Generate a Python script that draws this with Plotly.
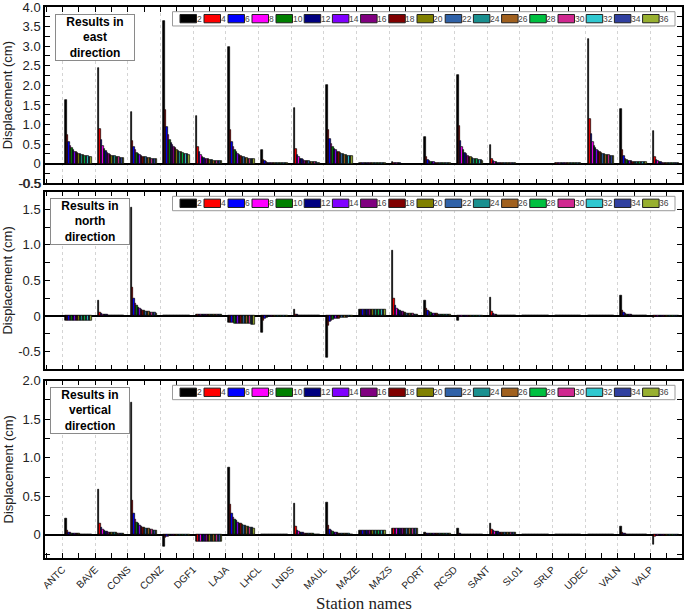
import plotly.graph_objects as go

# station names along the x axis
stations = ["ANTC", "BAVE", "CONS", "CONZ", "DGF1", "LAJA", "LHCL", "LNDS", "MAUL", "MAZE",
            "MAZS", "PORT", "RCSD", "SANT", "SL01", "SRLP", "UDEC", "VALN", "VALP"]

# legend entries (series)
periods = [2, 4, 6, 8, 10, 12, 14, 16, 18, 20, 22, 24, 26, 28, 30, 32, 34, 36]

colors = ["#000000", "#FF0000", "#0000FF", "#FF00FF", "#008000", "#000080", "#8000FF", "#800080",
          "#800000", "#808000", "#3062A8", "#1A9090", "#A0601E", "#00C040", "#D02890", "#30C8D0",
          "#3040A0", "#98B030"]

# displacement (cm), one row per station, one column per series
east = [
    [1.62, 0.73, 0.55, 0.45, 0.39, 0.34, 0.31, 0.29, 0.27, 0.25, 0.24, 0.23, 0.22, 0.21, 0.20, 0.19, 0.18, 0.17],
    [2.44, 0.88, 0.60, 0.46, 0.38, 0.32, 0.28, 0.25, 0.23, 0.21, 0.20, 0.19, 0.18, 0.17, 0.16, 0.15, 0.15, 0.14],
    [1.33, 0.59, 0.43, 0.34, 0.28, 0.25, 0.22, 0.20, 0.18, 0.17, 0.16, 0.15, 0.14, 0.14, 0.13, 0.13, 0.12, 0.12],
    [3.64, 1.37, 0.94, 0.74, 0.61, 0.53, 0.47, 0.42, 0.39, 0.36, 0.33, 0.31, 0.29, 0.28, 0.26, 0.25, 0.24, 0.23],
    [1.23, 0.43, 0.29, 0.22, 0.17, 0.15, 0.13, 0.12, 0.11, 0.10, 0.09, 0.09, 0.08, 0.08, 0.07, 0.07, 0.07, 0.06],
    [2.98, 0.87, 0.55, 0.42, 0.34, 0.29, 0.25, 0.22, 0.20, 0.18, 0.17, 0.15, 0.14, 0.13, 0.13, 0.12, 0.11, 0.11],
    [0.36, 0.10, 0.06, 0.04, 0.03, 0.03, 0.02, 0.02, 0.02, 0.02, 0.01, 0.01, 0.01, 0.01, 0.01, 0.01, 0.01, 0.01],
    [1.41, 0.37, 0.22, 0.16, 0.13, 0.11, 0.09, 0.08, 0.07, 0.06, 0.06, 0.05, 0.05, 0.04, 0.04, 0.04, 0.03, 0.03],
    [2.00, 0.87, 0.63, 0.50, 0.43, 0.38, 0.34, 0.31, 0.29, 0.27, 0.25, 0.24, 0.23, 0.22, 0.21, 0.21, 0.20, 0.20],
    [0.008, 0.008, 0.008, 0.008, 0.008, 0.008, 0.008, 0.008, 0.008, 0.008, 0.008, 0.008, 0.008, 0.008, 0.008, 0.008, 0.008, 0.008],
    [0.05, 0.02, 0.012, 0.01, 0.008, 0.006, 0.005, 0.005, 0.004, 0.004, 0.004, 0.003, 0.003, 0.003, 0.003, 0.003, 0.003, 0.003],
    [0.67, 0.16, 0.09, 0.07, 0.05, 0.04, 0.04, 0.03, 0.03, 0.03, 0.02, 0.02, 0.02, 0.02, 0.02, 0.02, 0.02, 0.02],
    [2.27, 0.97, 0.59, 0.43, 0.34, 0.28, 0.24, 0.21, 0.18, 0.16, 0.15, 0.13, 0.12, 0.11, 0.10, 0.09, 0.09, 0.08],
    [0.49, 0.12, 0.07, 0.05, 0.04, 0.03, 0.03, 0.02, 0.02, 0.02, 0.02, 0.015, 0.015, 0.015, 0.01, 0.01, 0.01, 0.01],
    [0.002, 0.002, 0.002, 0.002, 0.002, 0.002, 0.002, 0.002, 0.002, 0.002, 0.002, 0.002, 0.002, 0.002, 0.002, 0.002, 0.002, 0.002],
    [0.02, 0.02, 0.02, 0.02, 0.02, 0.02, 0.02, 0.02, 0.02, 0.02, 0.02, 0.02, 0.02, 0.02, 0.02, 0.02, 0.02, 0.02],
    [3.19, 1.14, 0.76, 0.56, 0.46, 0.40, 0.35, 0.32, 0.29, 0.27, 0.26, 0.24, 0.23, 0.22, 0.22, 0.21, 0.21, 0.20],
    [1.39, 0.35, 0.19, 0.13, 0.10, 0.08, 0.07, 0.06, 0.05, 0.05, 0.04, 0.04, 0.04, 0.04, 0.04, 0.04, 0.04, 0.04],
    [0.84, 0.18, 0.10, 0.07, 0.05, 0.04, 0.03, 0.03, 0.03, 0.02, 0.02, 0.02, 0.02, 0.02, 0.02, 0.02, 0.02, 0.02],
]

north = [
    [-0.07, -0.07, -0.07, -0.07, -0.07, -0.07, -0.07, -0.07, -0.07, -0.07, -0.07, -0.07, -0.07, -0.07, -0.07, -0.07, -0.07, -0.07],
    [0.21, 0.05, 0.03, 0.02, 0.02, 0.015, 0.015, 0.01, 0.01, 0.01, 0.01, 0.01, 0.01, 0.01, 0.01, 0.01, 0.01, 0.01],
    [1.52, 0.40, 0.24, 0.18, 0.14, 0.12, 0.10, 0.09, 0.08, 0.07, 0.065, 0.06, 0.055, 0.05, 0.05, 0.045, 0.045, 0.04],
    [0.005, 0.004, 0.004, 0.003, 0.003, 0.003, 0.003, 0.003, 0.003, 0.003, 0.003, 0.003, 0.003, 0.003, 0.003, 0.003, 0.003, 0.003],
    [0.02, 0.02, 0.02, 0.02, 0.02, 0.02, 0.02, 0.02, 0.02, 0.02, 0.02, 0.02, 0.02, 0.02, 0.02, 0.02, 0.02, 0.02],
    [-0.09, -0.09, -0.095, -0.095, -0.10, -0.10, -0.10, -0.10, -0.105, -0.105, -0.105, -0.11, -0.11, -0.11, -0.11, -0.115, -0.115, -0.115],
    [-0.24, -0.06, -0.035, -0.025, -0.02, -0.015, -0.015, -0.01, -0.01, -0.01, -0.01, -0.01, -0.01, -0.01, -0.01, -0.01, -0.01, -0.01],
    [0.09, 0.025, 0.015, 0.01, 0.01, 0.008, 0.007, 0.006, 0.005, 0.005, 0.005, 0.005, 0.005, 0.005, 0.005, 0.005, 0.005, 0.005],
    [-0.58, -0.14, -0.08, -0.06, -0.05, -0.04, -0.035, -0.03, -0.03, -0.025, -0.025, -0.02, -0.02, -0.02, -0.02, -0.015, -0.015, -0.015],
    [0.085, 0.085, 0.085, 0.085, 0.085, 0.085, 0.085, 0.085, 0.085, 0.085, 0.085, 0.085, 0.085, 0.085, 0.085, 0.085, 0.085, 0.085],
    [0.92, 0.24, 0.15, 0.11, 0.09, 0.075, 0.065, 0.055, 0.05, 0.045, 0.04, 0.035, 0.035, 0.03, 0.03, 0.025, 0.025, 0.02],
    [0.22, 0.10, 0.07, 0.055, 0.045, 0.04, 0.035, 0.03, 0.03, 0.025, 0.025, 0.02, 0.02, 0.02, 0.02, 0.015, 0.015, 0.015],
    [-0.06, -0.015, -0.01, -0.006, -0.005, -0.005, -0.004, -0.004, -0.003, -0.003, -0.003, -0.003, -0.003, -0.003, -0.003, -0.003, -0.003, -0.003],
    [0.26, 0.055, 0.03, 0.02, 0.015, 0.01, 0.01, 0.01, 0.008, 0.007, 0.006, 0.006, 0.005, 0.005, 0.005, 0.005, 0.005, 0.005],
    [0.0, 0.0, 0.0, 0.0, 0.0, 0.0, 0.0, 0.0, 0.0, 0.0, 0.0, 0.0, 0.0, 0.0, 0.0, 0.0, 0.0, 0.0],
    [0.0, 0.0, 0.0, 0.0, 0.0, 0.0, 0.0, 0.0, 0.0, 0.0, 0.0, 0.0, 0.0, 0.0, 0.0, 0.0, 0.0, 0.0],
    [0.003, 0.003, 0.003, 0.003, 0.003, 0.003, 0.003, 0.003, 0.003, 0.003, 0.003, 0.003, 0.003, 0.003, 0.003, 0.003, 0.003, 0.003],
    [0.29, 0.08, 0.045, 0.03, 0.025, 0.02, 0.015, 0.015, 0.01, 0.01, 0.01, 0.008, 0.008, 0.007, 0.006, 0.006, 0.005, 0.005],
    [-0.02, -0.01, -0.005, -0.004, -0.003, -0.003, -0.003, -0.003, -0.003, -0.003, -0.003, -0.003, -0.003, -0.003, -0.003, -0.003, -0.003, -0.003],
]

vertical = [
    [0.21, 0.05, 0.03, 0.025, 0.02, 0.018, 0.015, 0.015, 0.012, 0.012, 0.01, 0.01, 0.01, 0.01, 0.01, 0.01, 0.01, 0.01],
    [0.59, 0.15, 0.09, 0.065, 0.05, 0.045, 0.04, 0.035, 0.03, 0.03, 0.028, 0.025, 0.025, 0.022, 0.02, 0.02, 0.02, 0.02],
    [1.71, 0.44, 0.27, 0.20, 0.16, 0.14, 0.12, 0.11, 0.10, 0.09, 0.085, 0.08, 0.075, 0.07, 0.065, 0.06, 0.06, 0.055],
    [-0.15, -0.04, -0.025, -0.02, -0.015, -0.012, -0.01, -0.01, -0.008, -0.008, -0.007, -0.006, -0.006, -0.005, -0.005, -0.005, -0.005, -0.005],
    [-0.085, -0.085, -0.085, -0.085, -0.085, -0.085, -0.085, -0.085, -0.085, -0.085, -0.085, -0.085, -0.085, -0.085, -0.085, -0.085, -0.085, -0.085],
    [0.87, 0.39, 0.28, 0.23, 0.20, 0.18, 0.165, 0.15, 0.14, 0.13, 0.12, 0.115, 0.11, 0.105, 0.10, 0.095, 0.09, 0.085],
    [0.003, 0.003, 0.003, 0.003, 0.003, 0.003, 0.003, 0.003, 0.003, 0.003, 0.003, 0.003, 0.003, 0.003, 0.003, 0.003, 0.003, 0.003],
    [0.40, 0.11, 0.06, 0.045, 0.035, 0.03, 0.025, 0.02, 0.02, 0.018, 0.015, 0.015, 0.012, 0.012, 0.01, 0.01, 0.01, 0.01],
    [0.42, 0.12, 0.07, 0.05, 0.04, 0.035, 0.03, 0.025, 0.02, 0.02, 0.02, 0.015, 0.015, 0.015, 0.012, 0.012, 0.01, 0.01],
    [0.05, 0.05, 0.05, 0.05, 0.05, 0.05, 0.05, 0.05, 0.05, 0.05, 0.05, 0.05, 0.05, 0.05, 0.05, 0.05, 0.05, 0.05],
    [0.085, 0.085, 0.085, 0.085, 0.085, 0.085, 0.085, 0.085, 0.085, 0.085, 0.085, 0.085, 0.085, 0.085, 0.085, 0.085, 0.085, 0.085],
    [0.035, 0.022, 0.02, 0.018, 0.017, 0.016, 0.016, 0.015, 0.015, 0.015, 0.015, 0.015, 0.015, 0.015, 0.015, 0.015, 0.015, 0.015],
    [0.085, 0.02, 0.012, 0.01, 0.008, 0.007, 0.006, 0.005, 0.005, 0.005, 0.005, 0.005, 0.005, 0.005, 0.005, 0.005, 0.005, 0.005],
    [0.14, 0.065, 0.05, 0.045, 0.04, 0.038, 0.035, 0.033, 0.032, 0.03, 0.03, 0.03, 0.03, 0.03, 0.03, 0.03, 0.03, 0.03],
    [0.01, 0.003, 0.002, 0.002, 0.002, 0.002, 0.002, 0.002, 0.002, 0.002, 0.002, 0.002, 0.002, 0.002, 0.002, 0.002, 0.002, 0.002],
    [0.0, 0.0, 0.0, 0.0, 0.0, 0.0, 0.0, 0.0, 0.0, 0.0, 0.0, 0.0, 0.0, 0.0, 0.0, 0.0, 0.0, 0.0],
    [0.0, 0.0, 0.0, 0.0, 0.0, 0.0, 0.0, 0.0, 0.0, 0.0, 0.0, 0.0, 0.0, 0.0, 0.0, 0.0, 0.0, 0.0],
    [0.11, 0.035, 0.02, 0.015, 0.01, 0.01, 0.008, 0.007, 0.006, 0.005, 0.005, 0.005, 0.005, 0.005, 0.005, 0.005, 0.005, 0.005],
    [-0.12, -0.02, -0.012, -0.01, -0.008, -0.007, -0.006, -0.005, -0.005, -0.005, -0.005, -0.005, -0.005, -0.005, -0.005, -0.005, -0.005, -0.005],
]

east_ticks = [-0.5, 0, 0.5, 1.0, 1.5, 2.0, 2.5, 3.0, 3.5, 4.0]
north_ticks = [-0.5, 0, 0.5, 1.0, 1.5]
vertical_ticks = [0, 0.5, 1.0, 1.5, 2.0]

FONT = "Liberation Sans, Arial, sans-serif"

# panel: (data, title word, y range, y ticks, y domain)
panels = [
    (east, "east", [-0.5, 4.0], east_ticks, [0.680, 1.0]),
    (north, "north", [-0.75, 1.75], north_ticks, [0.3425, 0.665]),
    (vertical, "vertical", [-0.30, 2.0], vertical_ticks, [0.0, 0.322]),
]

idx = list(range(len(stations)))
halves = [i - 0.5 for i in range(len(stations) + 1)]
bw = 0.045      # width of one bar in station units
start = 0.08    # first bar offset from station position

fig = go.Figure()

# plot area in pixels (used for legend/title box placement)
PX_L, PX_R = 45, 682
PANEL_H = 176.5


def fx(px):
    return (px - PX_L) / (PX_R - PX_L)


def fy(off):
    return 1 - off / PANEL_H


for p, (data, word, yr, yt, dom) in enumerate(panels):
    xa = "x" if p == 0 else f"x{p + 1}"
    ya = "y" if p == 0 else f"y{p + 1}"
    for k, per in enumerate(periods):
        fig.add_trace(go.Bar(
            x=idx,
            y=[row[k] for row in data],
            offset=start + k * bw,
            width=bw,
            marker=dict(color=colors[k], line=dict(color="black", width=0.7)),
            name=str(per),
            showlegend=False,
            xaxis=xa, yaxis=ya,
        ))

    ticktext = ["0" if v == 0 else f"{v:.1f}" for v in yt]
    minor_y = [v / 4 for v in range(-3, 17) if yr[0] <= v / 4 <= yr[1]]

    xkey = "xaxis" if p == 0 else f"xaxis{p + 1}"
    ykey = "yaxis" if p == 0 else f"yaxis{p + 1}"
    fig.layout[xkey] = dict(
        domain=[0, 1], anchor=ya, range=[-0.54, 18.97],
        tickvals=idx, ticktext=stations, showticklabels=(p == 2),
        tickangle=-45, tickfont=dict(family=FONT, size=10, color="#222"),
        ticks="inside", ticklen=5, tickcolor="black", tickwidth=1,
        showline=True, linecolor="black", linewidth=1.5, mirror="allticks",
        showgrid=True, gridcolor="#d4d4d4", griddash="dot", gridwidth=1,
        zeroline=False, automargin=False,
        minor=dict(tickvals=halves, ticks="inside", ticklen=5, tickcolor="black", showgrid=False),
    )
    fig.layout[ykey] = dict(
        domain=dom, anchor=xa, range=yr,
        tickvals=yt, ticktext=ticktext, ticklabeloverflow="allow",
        tickfont=dict(family=FONT, size=13, color="#222"),
        ticks="inside", ticklen=5, tickcolor="black", tickwidth=1,
        showline=True, linecolor="black", linewidth=1.5, mirror="allticks",
        showgrid=False, zeroline=True, zerolinecolor="black", zerolinewidth=1.5,
        automargin=False,
        minor=dict(tickvals=minor_y, ticks="inside", ticklen=5, tickcolor="black"),
        title=dict(text="Displacement (cm)", font=dict(family=FONT, size=13, color="#222"), standoff=6),
    )

    # title box
    fig.add_annotation(
        xref=f"{xa} domain", yref=f"{ya} domain",
        x=fx(55 if p == 0 else 50), y=fy(7.5 if p == 0 else 6),
        xanchor="left", yanchor="top", showarrow=False,
        text=f"<b>Results in<br>{word}<br>direction</b>",
        font=dict(family=FONT, size=12, color="black"),
        bordercolor="#8a8a8a", borderwidth=1, borderpad=1, bgcolor="white",
        width=76, height=43,
    )

    # legend row drawn inside the panel
    fig.add_shape(type="rect", xref=f"{xa} domain", yref=f"{ya} domain",
                  x0=fx(172.5), x1=fx(675), y0=fy(4.7), y1=fy(19),
                  line=dict(color="#9a9a9a", width=1), fillcolor="white")
    xpos = 180
    for k, per in enumerate(periods):
        lab = str(per)
        fig.add_shape(type="rect", xref=f"{xa} domain", yref=f"{ya} domain",
                      x0=fx(xpos), x1=fx(xpos + 16.5), y0=fy(7.5), y1=fy(15.8),
                      line=dict(color="#222", width=1), fillcolor=colors[k])
        fig.add_annotation(xref=f"{xa} domain", yref=f"{ya} domain",
                           x=fx(xpos + 15.5), y=fy(11.8), xanchor="left", yanchor="middle",
                           showarrow=False, text=lab, borderpad=0,
                           font=dict(family=FONT, size=8.5, color="#444"))
        xpos += 19.8 + 4.2 * len(lab)

# plotly drops the bottom tick label of the top panel, so put it back as text
fig.add_annotation(xref="x domain", yref="y", x=fx(42), y=east_ticks[0],
                   xanchor="right", yanchor="middle", showarrow=False, borderpad=0,
                   text=f"{east_ticks[0]:.1f}",
                   font=dict(family=FONT, size=13, color="#222"))

# x axis title placed just under the rotated station labels
fig.add_annotation(xref="paper", yref="paper", x=0.5, y=(558 - 603) / 551,
                   xanchor="center", yanchor="middle", showarrow=False,
                   text="Station names",
                   font=dict(family="Liberation Serif, Times New Roman, serif", size=17, color="#222"))

fig.update_layout(
    width=685, height=614,
    margin=dict(l=PX_L, r=685 - PX_R, t=7, b=56),
    barmode="overlay",
    bargap=0,
    plot_bgcolor="rgba(0,0,0,0)", paper_bgcolor="white",
    showlegend=False,
)

# remove the default page margin so the figure sits at the top-left corner
fig.write_html("out.html", config={"displayModeBar": False},
               post_script="document.body.style.margin='0';")
